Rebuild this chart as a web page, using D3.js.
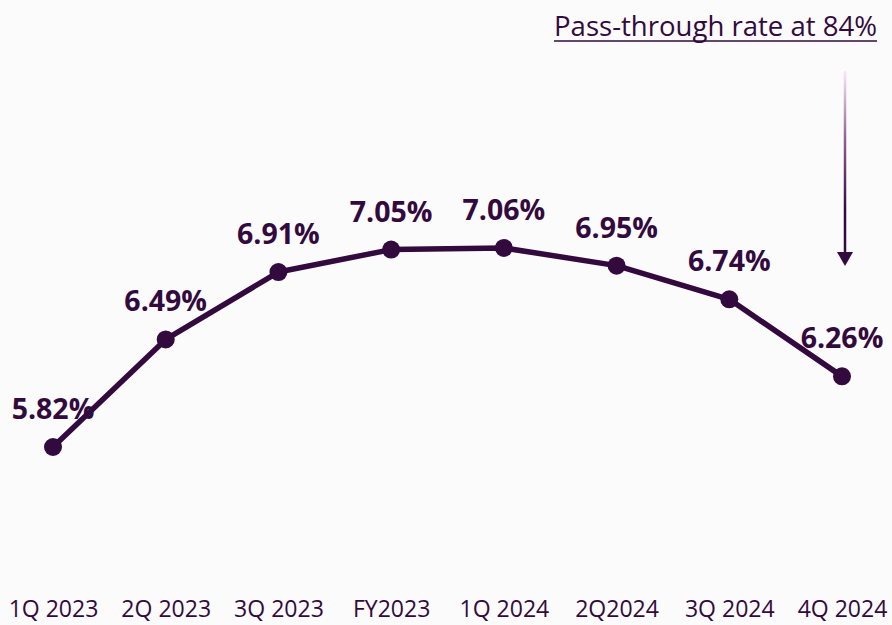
<!DOCTYPE html>
<html>
<head>
<meta charset="utf-8">
<script src="https://cdn.jsdelivr.net/npm/d3@7"></script>
<style>
  html, body { margin: 0; padding: 0; background: #fcfbfc; }
  svg { display: block; }
</style>
</head>
<body>
<svg id="chart" width="892" height="625"></svg>
<script>
const categories = ["1Q 2023", "2Q 2023", "3Q 2023", "FY2023", "1Q 2024", "2Q2024", "3Q 2024", "4Q 2024"];
const values = [5.82, 6.49, 6.91, 7.05, 7.06, 6.95, 6.74, 6.26];
const valueLabels = ["5.82%", "6.49%", "6.91%", "7.05%", "7.06%", "6.95%", "6.74%", "6.26%"];
const annotationText = "Pass-through rate at 84%";

const W = 892, H = 625;
const color = "#330a3d";
const svg = d3.select("#chart");

svg.append("rect").attr("width", W).attr("height", H).attr("fill", "#fcfbfc");

const x = d3.scalePoint().domain(categories).range([53, 842]);
const y = d3.scaleLinear().domain([5, 8]).range([578.6, 97.1]);

const data = categories.map((c, i) => ({ c, v: values[i], label: valueLabels[i] }));

// line
svg.append("path")
  .datum(data)
  .attr("fill", "none")
  .attr("stroke", color)
  .attr("stroke-width", 5.5)
  .attr("stroke-linejoin", "round")
  .attr("d", d3.line().x(d => x(d.c)).y(d => y(d.v)));

// points
svg.selectAll("circle.pt").data(data).join("circle")
  .attr("class", "pt")
  .attr("cx", d => x(d.c)).attr("cy", d => y(d.v)).attr("r", 9)
  .attr("fill", color);

// value labels
svg.selectAll("text.val").data(data).join("text")
  .attr("class", "val")
  .attr("x", d => x(d.c))
  .attr("y", d => y(d.v) - 28)
  .attr("text-anchor", "middle")
  .attr("font-family", "'Open Sans', sans-serif")
  .attr("font-weight", 700)
  .attr("font-size", 28.5)
  .attr("fill", color)
  .text(d => d.label);

// x axis labels (no line)
const xAxis = d3.axisBottom(x).tickSize(0).tickPadding(0);
const gx = svg.append("g").attr("transform", "translate(0,600)").call(xAxis);
gx.select(".domain").remove();
gx.selectAll("text")
  .attr("font-family", "'Open Sans', sans-serif")
  .attr("font-size", 24)
  .attr("fill", color)
  .attr("dy", "0.72em")
  .attr("transform", "scale(0.96,1)");

// annotation
svg.append("text")
  .attr("x", 877).attr("y", 36)
  .attr("text-anchor", "end")
  .attr("font-family", "'Open Sans', sans-serif")
  .attr("font-size", 27.5)
  .attr("fill", color)
  .attr("textLength", 323)
  .attr("lengthAdjust", "spacingAndGlyphs")
  .text(annotationText);
svg.append("line")
  .attr("x1", 554).attr("x2", 877).attr("y1", 41).attr("y2", 41)
  .attr("stroke", color).attr("stroke-width", 1.5);

// gradient arrow
const defs = svg.append("defs");
const grad = defs.append("linearGradient")
  .attr("id", "arrowGrad")
  .attr("gradientUnits", "userSpaceOnUse")
  .attr("x1", 0).attr("y1", 71).attr("x2", 0).attr("y2", 210);
grad.append("stop").attr("offset", "0%").attr("stop-color", "#fbe6f8");
grad.append("stop").attr("offset", "50%").attr("stop-color", "#8c5f8f");
grad.append("stop").attr("offset", "100%").attr("stop-color", color);

const ax = x(categories[categories.length - 1]) + 3;
svg.append("rect")
  .attr("x", ax - 1.25).attr("y", 71).attr("width", 2.5).attr("height", 182)
  .attr("fill", "url(#arrowGrad)");
svg.append("path")
  .attr("d", d3.line()([[ax - 8, 252], [ax + 8, 252], [ax, 266]]) + "Z")
  .attr("fill", color);
</script>
</body>
</html>
